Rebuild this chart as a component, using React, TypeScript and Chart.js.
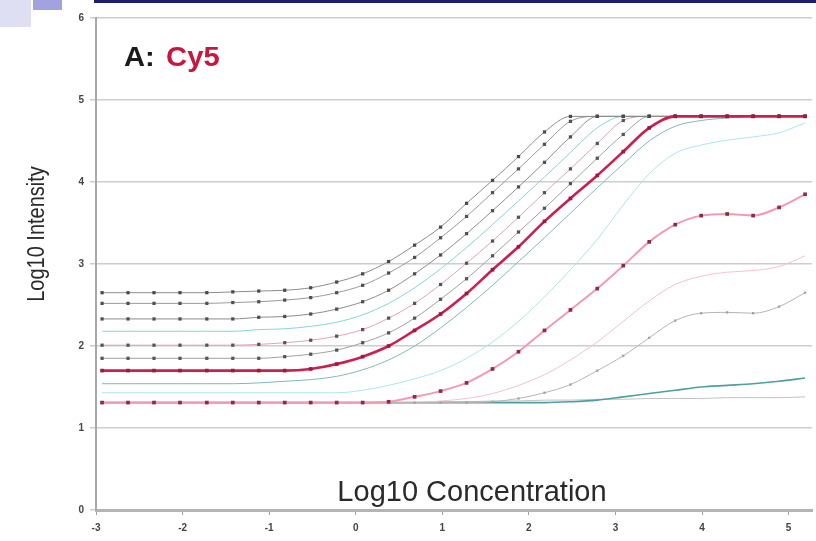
import React, { useEffect, useRef } from 'react';
import { Chart, registerables } from 'chart.js';

Chart.register(...registerables);

// Log10 concentration (x positions of the measured points)
const conc = [-2.93, -2.63, -2.33, -2.03, -1.72, -1.42, -1.12, -0.82, -0.52, -0.22, 0.08, 0.38, 0.68, 0.98, 1.28, 1.58, 1.88, 2.18, 2.48, 2.79, 3.09, 3.39, 3.69, 3.99, 4.29, 4.59, 4.89, 5.19];

const xTicks = [-3, -2, -1, 0, 1, 2, 3, 4, 5];
const yTicks = [0, 1, 2, 3, 4, 5, 6];

// Log10 intensity series
const seriesA = [2.65, 2.65, 2.65, 2.65, 2.65, 2.66, 2.67, 2.68, 2.71, 2.78, 2.88, 3.03, 3.23, 3.45, 3.74, 4.02, 4.31, 4.61, 4.80, 4.80, 4.80, 4.80, 4.80, 4.80, 4.80, 4.80, 4.80, 4.80];
const seriesB = [2.52, 2.52, 2.52, 2.52, 2.52, 2.53, 2.54, 2.56, 2.59, 2.65, 2.74, 2.89, 3.08, 3.32, 3.58, 3.87, 4.16, 4.46, 4.74, 4.80, 4.80, 4.80, 4.80, 4.80, 4.80, 4.80, 4.80, 4.80];
const seriesC = [2.33, 2.33, 2.33, 2.33, 2.33, 2.33, 2.35, 2.36, 2.39, 2.45, 2.54, 2.68, 2.88, 3.11, 3.37, 3.65, 3.94, 4.24, 4.55, 4.80, 4.80, 4.80, 4.80, 4.80, 4.80, 4.80, 4.80, 4.80];
const seriesD = [2.18, 2.18, 2.18, 2.18, 2.18, 2.18, 2.20, 2.21, 2.24, 2.29, 2.38, 2.52, 2.71, 2.94, 3.20, 3.48, 3.77, 4.06, 4.36, 4.66, 4.80, 4.80, 4.80, 4.80, 4.80, 4.80, 4.80, 4.80];
const seriesE = [2.01, 2.01, 2.01, 2.01, 2.01, 2.01, 2.02, 2.04, 2.07, 2.12, 2.20, 2.34, 2.52, 2.75, 3.01, 3.28, 3.57, 3.87, 4.16, 4.47, 4.75, 4.80, 4.80, 4.80, 4.80, 4.80, 4.80, 4.80];
const seriesF = [1.85, 1.85, 1.85, 1.85, 1.85, 1.85, 1.85, 1.87, 1.90, 1.95, 2.04, 2.16, 2.34, 2.57, 2.82, 3.10, 3.39, 3.68, 3.98, 4.29, 4.58, 4.80, 4.80, 4.80, 4.80, 4.80, 4.80, 4.80];
const seriesG = [1.70, 1.70, 1.70, 1.70, 1.70, 1.70, 1.70, 1.70, 1.72, 1.78, 1.87, 2.00, 2.19, 2.39, 2.64, 2.93, 3.21, 3.52, 3.80, 4.08, 4.37, 4.66, 4.80, 4.80, 4.80, 4.80, 4.80, 4.80];
const seriesH = [1.54, 1.54, 1.54, 1.54, 1.54, 1.54, 1.55, 1.57, 1.59, 1.63, 1.71, 1.83, 2.00, 2.22, 2.47, 2.74, 3.03, 3.32, 3.62, 3.93, 4.22, 4.50, 4.68, 4.75, 4.78, 4.80, 4.80, 4.80];
const seriesI = [1.43, 1.43, 1.43, 1.43, 1.43, 1.43, 1.43, 1.43, 1.43, 1.43, 1.46, 1.52, 1.60, 1.70, 1.85, 2.05, 2.30, 2.60, 2.93, 3.30, 3.72, 4.10, 4.35, 4.45, 4.51, 4.55, 4.60, 4.72];
const seriesR = [1.31, 1.31, 1.31, 1.31, 1.31, 1.31, 1.31, 1.31, 1.31, 1.31, 1.31, 1.32, 1.38, 1.45, 1.55, 1.72, 1.93, 2.19, 2.44, 2.70, 2.98, 3.27, 3.48, 3.59, 3.61, 3.59, 3.69, 3.85];
const seriesJ = [1.31, 1.31, 1.31, 1.31, 1.31, 1.31, 1.31, 1.31, 1.31, 1.31, 1.31, 1.31, 1.31, 1.31, 1.31, 1.32, 1.36, 1.43, 1.53, 1.70, 1.88, 2.10, 2.31, 2.40, 2.41, 2.40, 2.48, 2.65];
const seriesK = [1.31, 1.31, 1.31, 1.31, 1.31, 1.31, 1.31, 1.31, 1.31, 1.31, 1.31, 1.31, 1.31, 1.33, 1.36, 1.42, 1.52, 1.65, 1.83, 2.05, 2.30, 2.55, 2.75, 2.85, 2.90, 2.92, 2.97, 3.10];
const seriesL = [1.31, 1.31, 1.31, 1.31, 1.31, 1.31, 1.31, 1.31, 1.31, 1.31, 1.31, 1.31, 1.31, 1.31, 1.31, 1.31, 1.31, 1.31, 1.32, 1.34, 1.38, 1.42, 1.46, 1.50, 1.52, 1.54, 1.57, 1.61];
const seriesM = [1.31, 1.31, 1.31, 1.31, 1.31, 1.31, 1.31, 1.31, 1.31, 1.31, 1.31, 1.31, 1.31, 1.32, 1.32, 1.33, 1.33, 1.34, 1.34, 1.35, 1.35, 1.36, 1.36, 1.36, 1.37, 1.37, 1.37, 1.38];

const FONT = "'Liberation Sans', Arial, sans-serif";

function pts(vals: number[]) {
  return conc.map((x, i) => ({ x, y: vals[i] }));
}

function line(label: string, vals: number[], color: string, width: number, marker: string | null, radius = 2.3) {
  return {
    label,
    data: pts(vals),
    borderColor: color,
    borderWidth: width,
    pointStyle: 'rect',
    pointRadius: marker ? radius : 0,
    pointBackgroundColor: marker || color,
    pointBorderWidth: 0,
    fill: false,
    cubicInterpolationMode: 'monotone',
  };
}

const textPlugin = {
  id: 'texts',
  afterDraw(chart: any) {
    const ctx = chart.ctx;
    ctx.save();
    ctx.textBaseline = 'alphabetic';
    ctx.textAlign = 'left';
    ctx.save();
    ctx.translate(124, 66);
    ctx.scale(1.08, 1);
    ctx.font = `bold 27px ${FONT}`;
    ctx.fillStyle = '#1a1a1a';
    ctx.fillText('A:', 0, 0);
    ctx.fillStyle = '#c8163f';
    ctx.fillText('Cy5', 39, 0);
    ctx.restore();

    ctx.font = `29px ${FONT}`;
    ctx.fillStyle = '#2a2a2a';
    ctx.textAlign = 'center';
    ctx.fillText('Log10 Concentration', 472, 501);

    ctx.translate(44, 234);
    ctx.scale(1.15, 1);
    ctx.rotate(-Math.PI / 2);
    ctx.font = `20px ${FONT}`;
    ctx.fillText('Log10 Intensity', 0, 0);
    ctx.restore();
  },
};

export default function App() {
  const ref = useRef<HTMLCanvasElement | null>(null);

  useEffect(() => {
    document.body.style.margin = '0';
    const canvas = ref.current;
    if (!canvas) return;
    const chart = new Chart(canvas, {
      type: 'line',
      data: {
        datasets: [
          line('G', seriesG, '#cc1f4f', 2.6, '#9b1a40', 2.6),
          line('R', seriesR, '#f29bb0', 2, '#8e2a48', 2.6),
          line('A', seriesA, '#8c8c8c', 1, '#4a4a4a'),
          line('B', seriesB, '#9a9a9a', 1, '#505050'),
          line('C', seriesC, '#8c8c8c', 1, '#505050'),
          line('E', seriesE, '#e8a0b2', 1, '#555555'),
          line('F', seriesF, '#a0a0a0', 1, '#555555'),
          line('D', seriesD, '#86d4dc', 1, null),
          line('H', seriesH, '#7fb8ba', 1, null),
          line('I', seriesI, '#ace6ee', 1, null),
          line('J', seriesJ, '#b4b4b4', 1, '#a0a0a0', 1.6),
          line('K', seriesK, '#f5c2ce', 1, null),
          line('L', seriesL, '#4f9ea0', 1.6, null),
          line('M', seriesM, '#c2c2c2', 1, null),
        ] as any,
      },
      options: {
        animation: false,
        responsive: false,
        maintainAspectRatio: false,
        layout: { padding: { top: 18, left: 0, right: 0, bottom: 0 } },
        plugins: {
          legend: { display: false },
          tooltip: { enabled: false },
        },
        scales: {
          x: {
            type: 'linear',
            min: -3,
            max: 5.27,
            afterBuildTicks: (scale: any) => {
              scale.ticks = xTicks.map((v) => ({ value: v }));
            },
            afterFit: (scale: any) => {
              scale.height = 31;
            },
            grid: { drawOnChartArea: false, drawTicks: true, tickLength: 5, color: '#a0a0a0', lineWidth: 1 },
            border: { display: true, color: '#b4b4b4', width: 3 },
            ticks: { font: { family: FONT, size: 10, weight: 'bold' }, color: '#444', padding: 7, maxRotation: 0, autoSkip: false },
          },
          y: {
            type: 'linear',
            min: 0,
            max: 6,
            afterBuildTicks: (scale: any) => {
              scale.ticks = yTicks.map((v) => ({ value: v }));
            },
            afterFit: (scale: any) => {
              scale.width = 96;
            },
            grid: { drawOnChartArea: true, drawTicks: true, tickLength: 6, color: '#cdcdcd', lineWidth: 1.5 },
            border: { display: true, color: '#a8a8a8', width: 2 },
            ticks: { font: { family: FONT, size: 10, weight: 'bold' }, color: '#444', padding: 6 },
          },
        },
      } as any,
      plugins: [textPlugin],
    });
    return () => chart.destroy();
  }, []);

  return (
    <div style={{ position: 'fixed', left: 0, top: 0, width: 816, height: 541, background: '#fff' }}>
      <canvas ref={ref} width={816} height={541} style={{ width: 816, height: 541, display: 'block' }} />
      <div style={{ position: 'absolute', left: 0, top: 0, width: 31, height: 27, background: '#dedff2' }} />
      <div style={{ position: 'absolute', left: 33, top: 0, width: 29, height: 10, background: '#a2a3de' }} />
      <div style={{ position: 'absolute', left: 94, top: 0, width: 722, height: 3, background: '#1d1d6b' }} />
    </div>
  );
}
